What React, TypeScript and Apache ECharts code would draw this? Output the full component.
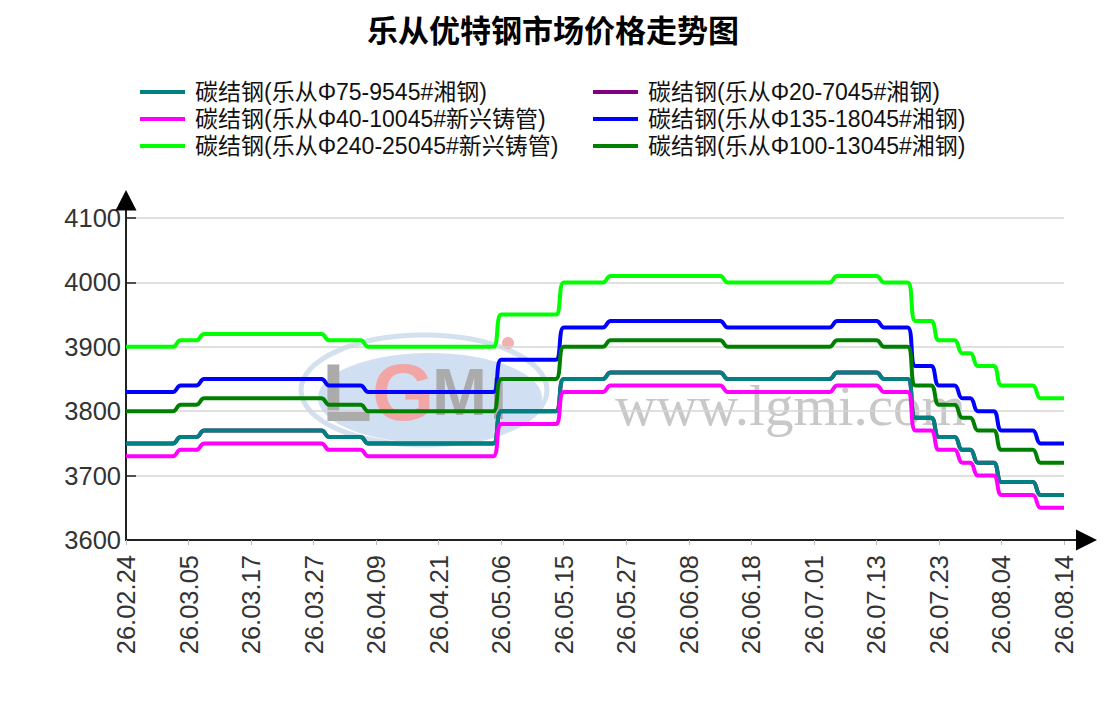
import React, { useEffect, useRef } from "react";
import * as echarts from "echarts";

const dates = [
  "26.02.24", "26.02.25", "26.02.26", "26.02.27", "26.02.28", "26.03.02", "26.03.03", "26.03.04",
  "26.03.05", "26.03.06", "26.03.09", "26.03.10", "26.03.11", "26.03.12", "26.03.13", "26.03.16",
  "26.03.17", "26.03.18", "26.03.19", "26.03.20", "26.03.23", "26.03.24", "26.03.25", "26.03.26",
  "26.03.27", "26.03.30", "26.03.31", "26.04.01", "26.04.02", "26.04.03", "26.04.07", "26.04.08",
  "26.04.09", "26.04.10", "26.04.13", "26.04.14", "26.04.15", "26.04.16", "26.04.17", "26.04.20",
  "26.04.21", "26.04.22", "26.04.23", "26.04.24", "26.04.27", "26.04.28", "26.04.29", "26.04.30",
  "26.05.06", "26.05.07", "26.05.08", "26.05.09", "26.05.11", "26.05.12", "26.05.13", "26.05.14",
  "26.05.15", "26.05.18", "26.05.19", "26.05.20", "26.05.21", "26.05.22", "26.05.25", "26.05.26",
  "26.05.27", "26.05.28", "26.05.29", "26.06.01", "26.06.02", "26.06.03", "26.06.04", "26.06.05",
  "26.06.08", "26.06.09", "26.06.10", "26.06.11", "26.06.12", "26.06.15", "26.06.16", "26.06.17",
  "26.06.18", "26.06.22", "26.06.23", "26.06.24", "26.06.25", "26.06.26", "26.06.29", "26.06.30",
  "26.07.01", "26.07.02", "26.07.03", "26.07.06", "26.07.07", "26.07.08", "26.07.09", "26.07.10",
  "26.07.13", "26.07.14", "26.07.15", "26.07.16", "26.07.17", "26.07.20", "26.07.21", "26.07.22",
  "26.07.23", "26.07.24", "26.07.27", "26.07.28", "26.07.29", "26.07.30", "26.07.31", "26.08.03",
  "26.08.04", "26.08.05", "26.08.06", "26.08.07", "26.08.10", "26.08.11", "26.08.12", "26.08.13",
  "26.08.14",
];

const seriesNames = [
  "碳结钢(乐从Φ75-9545#湘钢)",
  "碳结钢(乐从Φ20-7045#湘钢)",
  "碳结钢(乐从Φ40-10045#新兴铸管)",
  "碳结钢(乐从Φ135-18045#湘钢)",
  "碳结钢(乐从Φ240-25045#新兴铸管)",
  "碳结钢(乐从Φ100-13045#湘钢)",
];

const seriesColors = ["#008080", "#800080", "#ff00ff", "#0000ff", "#00ff00", "#008000"];

const yTicks = { min: 3600, max: 4100, step: 100 };

// Φ75-95 45# 湘钢
const teal = [
  3750, 3750, 3750, 3750, 3750, 3750, 3750,
  3760, 3760, 3760,
  3770, 3770, 3770, 3770, 3770, 3770, 3770, 3770,
  3770, 3770, 3770, 3770, 3770, 3770, 3770, 3770,
  3760, 3760, 3760, 3760, 3760,
  3750, 3750, 3750, 3750, 3750, 3750, 3750, 3750, 3750,
  3750, 3750, 3750, 3750, 3750, 3750, 3750, 3750,
  3800, 3800, 3800, 3800, 3800, 3800, 3800, 3800,
  3850, 3850, 3850, 3850, 3850, 3850,
  3860, 3860, 3860, 3860, 3860, 3860, 3860, 3860,
  3860, 3860, 3860, 3860, 3860, 3860, 3860,
  3850, 3850, 3850, 3850, 3850, 3850, 3850,
  3850, 3850, 3850, 3850, 3850, 3850, 3850,
  3860, 3860, 3860, 3860, 3860, 3860,
  3850, 3850, 3850, 3850,
  3790, 3790, 3790,
  3760, 3760, 3760,
  3740, 3740,
  3720, 3720, 3720,
  3690, 3690, 3690, 3690, 3690,
  3670, 3670, 3670, 3670,
];

// Φ20-70 45# 湘钢 (hidden beneath the teal line in the picture)
const purple = [
  3750, 3750, 3750, 3750, 3750, 3750, 3750,
  3760, 3760, 3760,
  3770, 3770, 3770, 3770, 3770, 3770, 3770, 3770,
  3770, 3770, 3770, 3770, 3770, 3770, 3770, 3770,
  3760, 3760, 3760, 3760, 3760,
  3750, 3750, 3750, 3750, 3750, 3750, 3750, 3750, 3750,
  3750, 3750, 3750, 3750, 3750, 3750, 3750, 3750,
  3800, 3800, 3800, 3800, 3800, 3800, 3800, 3800,
  3850, 3850, 3850, 3850, 3850, 3850,
  3860, 3860, 3860, 3860, 3860, 3860, 3860, 3860,
  3860, 3860, 3860, 3860, 3860, 3860, 3860,
  3850, 3850, 3850, 3850, 3850, 3850, 3850,
  3850, 3850, 3850, 3850, 3850, 3850, 3850,
  3860, 3860, 3860, 3860, 3860, 3860,
  3850, 3850, 3850, 3850,
  3790, 3790, 3790,
  3760, 3760, 3760,
  3740, 3740,
  3720, 3720, 3720,
  3690, 3690, 3690, 3690, 3690,
  3670, 3670, 3670, 3670,
];

// Φ40-100 45# 新兴铸管
const magenta = [
  3730, 3730, 3730, 3730, 3730, 3730, 3730,
  3740, 3740, 3740,
  3750, 3750, 3750, 3750, 3750, 3750, 3750, 3750,
  3750, 3750, 3750, 3750, 3750, 3750, 3750, 3750,
  3740, 3740, 3740, 3740, 3740,
  3730, 3730, 3730, 3730, 3730, 3730, 3730, 3730, 3730,
  3730, 3730, 3730, 3730, 3730, 3730, 3730, 3730,
  3780, 3780, 3780, 3780, 3780, 3780, 3780, 3780,
  3830, 3830, 3830, 3830, 3830, 3830,
  3840, 3840, 3840, 3840, 3840, 3840, 3840, 3840,
  3840, 3840, 3840, 3840, 3840, 3840, 3840,
  3830, 3830, 3830, 3830, 3830, 3830, 3830,
  3830, 3830, 3830, 3830, 3830, 3830, 3830,
  3840, 3840, 3840, 3840, 3840, 3840,
  3830, 3830, 3830, 3830,
  3770, 3770, 3770,
  3740, 3740, 3740,
  3720, 3720,
  3700, 3700, 3700,
  3670, 3670, 3670, 3670, 3670,
  3650, 3650, 3650, 3650,
];

// Φ135-180 45# 湘钢
const blue = [
  3830, 3830, 3830, 3830, 3830, 3830, 3830,
  3840, 3840, 3840,
  3850, 3850, 3850, 3850, 3850, 3850, 3850, 3850,
  3850, 3850, 3850, 3850, 3850, 3850, 3850, 3850,
  3840, 3840, 3840, 3840, 3840,
  3830, 3830, 3830, 3830, 3830, 3830, 3830, 3830, 3830,
  3830, 3830, 3830, 3830, 3830, 3830, 3830, 3830,
  3880, 3880, 3880, 3880, 3880, 3880, 3880, 3880,
  3930, 3930, 3930, 3930, 3930, 3930,
  3940, 3940, 3940, 3940, 3940, 3940, 3940, 3940,
  3940, 3940, 3940, 3940, 3940, 3940, 3940,
  3930, 3930, 3930, 3930, 3930, 3930, 3930,
  3930, 3930, 3930, 3930, 3930, 3930, 3930,
  3940, 3940, 3940, 3940, 3940, 3940,
  3930, 3930, 3930, 3930,
  3870, 3870, 3870,
  3840, 3840, 3840,
  3820, 3820,
  3800, 3800, 3800,
  3770, 3770, 3770, 3770, 3770,
  3750, 3750, 3750, 3750,
];

// Φ240-250 45# 新兴铸管
const lime = [
  3900, 3900, 3900, 3900, 3900, 3900, 3900,
  3910, 3910, 3910,
  3920, 3920, 3920, 3920, 3920, 3920, 3920, 3920,
  3920, 3920, 3920, 3920, 3920, 3920, 3920, 3920,
  3910, 3910, 3910, 3910, 3910,
  3900, 3900, 3900, 3900, 3900, 3900, 3900, 3900, 3900,
  3900, 3900, 3900, 3900, 3900, 3900, 3900, 3900,
  3950, 3950, 3950, 3950, 3950, 3950, 3950, 3950,
  4000, 4000, 4000, 4000, 4000, 4000,
  4010, 4010, 4010, 4010, 4010, 4010, 4010, 4010,
  4010, 4010, 4010, 4010, 4010, 4010, 4010,
  4000, 4000, 4000, 4000, 4000, 4000, 4000,
  4000, 4000, 4000, 4000, 4000, 4000, 4000,
  4010, 4010, 4010, 4010, 4010, 4010,
  4000, 4000, 4000, 4000,
  3940, 3940, 3940,
  3910, 3910, 3910,
  3890, 3890,
  3870, 3870, 3870,
  3840, 3840, 3840, 3840, 3840,
  3820, 3820, 3820, 3820,
];

// Φ100-130 45# 湘钢
const green = [
  3800, 3800, 3800, 3800, 3800, 3800, 3800,
  3810, 3810, 3810,
  3820, 3820, 3820, 3820, 3820, 3820, 3820, 3820,
  3820, 3820, 3820, 3820, 3820, 3820, 3820, 3820,
  3810, 3810, 3810, 3810, 3810,
  3800, 3800, 3800, 3800, 3800, 3800, 3800, 3800, 3800,
  3800, 3800, 3800, 3800, 3800, 3800, 3800, 3800,
  3850, 3850, 3850, 3850, 3850, 3850, 3850, 3850,
  3900, 3900, 3900, 3900, 3900, 3900,
  3910, 3910, 3910, 3910, 3910, 3910, 3910, 3910,
  3910, 3910, 3910, 3910, 3910, 3910, 3910,
  3900, 3900, 3900, 3900, 3900, 3900, 3900,
  3900, 3900, 3900, 3900, 3900, 3900, 3900,
  3910, 3910, 3910, 3910, 3910, 3910,
  3900, 3900, 3900, 3900,
  3840, 3840, 3840,
  3810, 3810, 3810,
  3790, 3790,
  3770, 3770, 3770,
  3740, 3740, 3740, 3740, 3740,
  3720, 3720, 3720, 3720,
];

const seriesValues = [teal, purple, magenta, blue, lime, green];

const LATIN = "'Liberation Sans', Arial, sans-serif";
const MIXED = "'Liberation Sans', 'Noto Sans CJK SC', sans-serif";

export default function App() {
  const ref = useRef<HTMLDivElement>(null);

  useEffect(() => {
    if (!ref.current) return;
    const chart = echarts.init(ref.current, null, { renderer: "svg" });

    const legendCommon = {
      orient: "vertical",
      top: 75,
      icon: "rect",
      itemWidth: 45,
      itemHeight: 4,
      itemGap: 3,
      selectedMode: false,
      textStyle: {
        fontSize: 23,
        lineHeight: 24,
        color: "#111",
        fontFamily: MIXED,
        padding: [0, 0, 0, 5],
      },
    };

    const option: any = {
      animation: false,
      backgroundColor: "#ffffff",
      title: {
        text: "乐从优特钢市场价格走势图",
        left: "center",
        top: 8,
        textStyle: {
          fontSize: 31,
          fontWeight: "bold",
          color: "#000",
          fontFamily: "'Noto Sans CJK SC', sans-serif",
        },
      },
      legend: [
        { ...legendCommon, left: 135, data: [seriesNames[0], seriesNames[2], seriesNames[4]] },
        { ...legendCommon, left: 588, data: [seriesNames[1], seriesNames[3], seriesNames[5]] },
      ],
      grid: { left: 126, right: 42, top: 218, bottom: 161, containLabel: false },
      xAxis: {
        type: "category",
        data: dates,
        boundaryGap: false,
        axisLine: { show: true, onZero: false, lineStyle: { color: "#222", width: 2 } },
        axisTick: { show: true, interval: 7, length: 5, lineStyle: { color: "#bbb", width: 1 } },
        axisLabel: {
          interval: 7,
          rotate: 90,
          fontSize: 25.5,
          color: "#333",
          margin: 15,
          fontFamily: LATIN,
        },
        splitLine: { show: false },
      },
      yAxis: {
        type: "value",
        min: yTicks.min,
        max: yTicks.max,
        interval: yTicks.step,
        axisLine: { show: true, lineStyle: { color: "#222", width: 2 } },
        axisTick: { show: true, inside: true, length: 10, lineStyle: { color: "#222", width: 1.5 } },
        axisLabel: {
          fontSize: 25.5,
          color: "#333",
          margin: 5,
          fontFamily: LATIN,
          formatter: (v: number) => String(v),
        },
        splitLine: { show: true, lineStyle: { color: "#d6d6d6", width: 1.5 } },
      },
      graphic: [
        // watermark
        {
          type: "ellipse",
          z: -10,
          silent: true,
          shape: { cx: 424, cy: 390, rx: 123, ry: 55 },
          style: { fill: "none", stroke: "#d3e0ee", lineWidth: 5 },
        },
        {
          type: "ellipse",
          z: -10,
          silent: true,
          shape: { cx: 430, cy: 398, rx: 112, ry: 45 },
          style: { fill: "#d0e0f2" },
        },
        {
          type: "text",
          z: -9,
          silent: true,
          x: 322,
          y: 392,
          style: { text: "L", fill: "#ababab", font: "bold 82px 'Liberation Sans'", verticalAlign: "middle" },
        },
        {
          type: "text",
          z: -9,
          silent: true,
          x: 372,
          y: 392,
          style: { text: "G", fill: "#f2a5a5", font: "bold 80px 'Liberation Sans'", verticalAlign: "middle" },
        },
        {
          type: "text",
          z: -9,
          silent: true,
          x: 432,
          y: 392,
          style: { text: "M", fill: "#ababab", font: "bold 66px 'Liberation Sans'", verticalAlign: "middle" },
        },
        {
          type: "text",
          z: -9,
          silent: true,
          x: 490,
          y: 398,
          style: { text: "I", fill: "#ababab", font: "bold 60px 'Liberation Sans'", verticalAlign: "middle" },
        },
        {
          type: "circle",
          z: -9,
          silent: true,
          shape: { cx: 508, cy: 343, r: 6 },
          style: { fill: "#f2b0b0" },
        },
        {
          type: "text",
          z: -9,
          silent: true,
          x: 615,
          y: 405,
          style: { text: "www.lgmi.com", fill: "#c8c8c8", font: "57px 'Liberation Serif'", verticalAlign: "middle" },
        },
        // x axis extension + arrow
        {
          type: "line",
          z: 10,
          silent: true,
          shape: { x1: 1063, y1: 540, x2: 1080, y2: 540 },
          style: { stroke: "#222", lineWidth: 2 },
        },
        {
          type: "polygon",
          z: 10,
          silent: true,
          shape: { points: [[1076, 529.5], [1097, 540], [1076, 550.5]] },
          style: { fill: "#000" },
        },
        // y axis extension + arrow
        {
          type: "line",
          z: 10,
          silent: true,
          shape: { x1: 126, y1: 219, x2: 126, y2: 205 },
          style: { stroke: "#222", lineWidth: 2 },
        },
        {
          type: "polygon",
          z: 10,
          silent: true,
          shape: { points: [[115.5, 210.5], [126, 190], [136.5, 210.5]] },
          style: { fill: "#000" },
        },
      ],
      series: seriesNames.map((name, i) => ({
        name,
        type: "line",
        data: seriesValues[i],
        smooth: 0.45,
        symbol: "none",
        showSymbol: false,
        z: i === 1 ? 1 : 2,
        color: seriesColors[i],
        lineStyle: { width: 4, color: seriesColors[i] },
      })),
    };

    chart.setOption(option);
    return () => chart.dispose();
  }, []);

  return (
    <div
      ref={ref}
      style={{ position: "fixed", left: 0, top: 0, width: 1106, height: 701, background: "#fff" }}
    />
  );
}
